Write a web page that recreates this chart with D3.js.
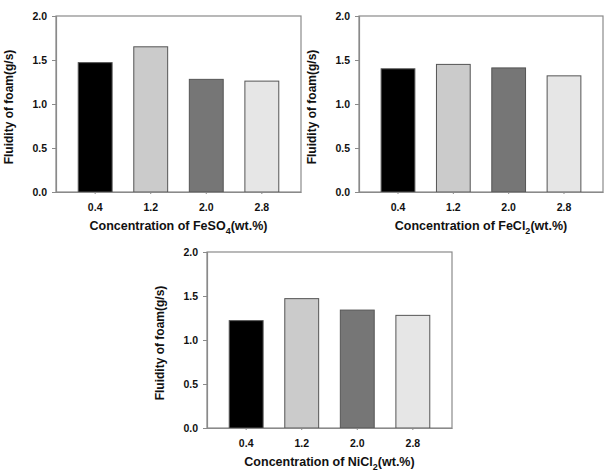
<!DOCTYPE html>
<html>
<head>
<meta charset="utf-8">
<script src="https://cdn.jsdelivr.net/npm/d3@7"></script>
<style>
  body { margin: 0; background: #fff; }
  svg text { font-family: "Liberation Sans", Arial, sans-serif; font-weight: bold; fill: #111; }
</style>
</head>
<body>
<div id="chart"></div>
<script>
// concentrations on the x axis (wt.%)
const concentrations = ["0.4", "1.2", "2.0", "2.8"];
// fluidity of foam (g/s)
const feso4Values = [1.47, 1.65, 1.28, 1.26];
const fecl2Values = [1.40, 1.45, 1.41, 1.32];
const nicl2Values = [1.22, 1.47, 1.34, 1.28];
const yTicks = [0, 0.5, 1.0, 1.5, 2.0];
const barColors = ["#000000", "#cbcbcb", "#767676", "#e6e6e6"];

const svg = d3.select("#chart")
              .append("svg")
              .attr("width", 607)
              .attr("height", 472);

// each panel: where its plot frame sits
const panels = [
    { values: feso4Values, salt: ["FeSO", "4"], left: 56, top: 16, width: 245, height: 176 },
    { values: fecl2Values, salt: ["FeCl", "2"], left: 359, top: 16, width: 244, height: 176 },
    { values: nicl2Values, salt: ["NiCl", "2"], left: 207, top: 252, width: 245, height: 176 }
];

panels.forEach(p => drawPanel(p));

function drawPanel(p) {
    const g = svg.append("g")
                 .attr("transform", `translate(${p.left}, ${p.top})`);

    const x = d3.scaleBand()
                .domain(concentrations)
                .range([0, p.width])
                .paddingInner(0.39)
                .paddingOuter(0.4);

    const y = d3.scaleLinear()
                .domain([0, 2])
                .range([p.height, 0]);

    // frame
    g.append("rect")
     .attr("x", 0).attr("y", 0)
     .attr("width", p.width).attr("height", p.height)
     .attr("fill", "none")
     .attr("stroke", "#8a8a8a")
     .attr("stroke-width", 1.2);

    // bars
    g.selectAll(".bar")
     .data(p.values)
     .enter()
     .append("rect")
     .attr("class", "bar")
     .attr("x", (d, i) => x(concentrations[i]))
     .attr("y", d => y(d))
     .attr("width", x.bandwidth())
     .attr("height", d => p.height - y(d))
     .attr("fill", (d, i) => barColors[i])
     .attr("stroke", "#555")
     .attr("stroke-width", 1);

    // Y axis
    const yAxis = g.append("g")
                   .call(d3.axisLeft(y).tickValues(yTicks).tickFormat(d3.format(".1f")).tickSize(4).tickPadding(5));
    yAxis.select(".domain").attr("stroke", "#8a8a8a").attr("stroke-width", 1.2);
    yAxis.selectAll(".tick line").attr("stroke", "#8a8a8a");
    yAxis.selectAll("text").style("font-size", "10.5px").attr("fill", "#111");

    // X axis
    const xAxis = g.append("g")
                   .attr("transform", `translate(0, ${p.height})`)
                   .call(d3.axisBottom(x).tickSize(2).tickSizeOuter(0).tickPadding(10));
    xAxis.select(".domain").attr("stroke", "#8a8a8a").attr("stroke-width", 1.2);
    xAxis.selectAll(".tick line").attr("stroke", "#8a8a8a");
    xAxis.selectAll("text").style("font-size", "10.5px").attr("fill", "#111");

    // axis titles
    g.append("text")
     .attr("transform", `translate(-43, ${p.height / 2 + 3}) rotate(-90)`)
     .attr("text-anchor", "middle")
     .style("font-size", "12px")
     .text("Fluidity of foam(g/s)");

    const xt = g.append("text")
                .attr("x", p.width / 2)
                .attr("y", p.height + 38)
                .attr("text-anchor", "middle")
                .style("font-size", "12.5px");
    xt.append("tspan").text("Concentration of " + p.salt[0]);
    xt.append("tspan").attr("dy", 4).style("font-size", "9px").text(p.salt[1]);
    xt.append("tspan").attr("dy", -4).text("(wt.%)");
}
</script>
</body>
</html>
